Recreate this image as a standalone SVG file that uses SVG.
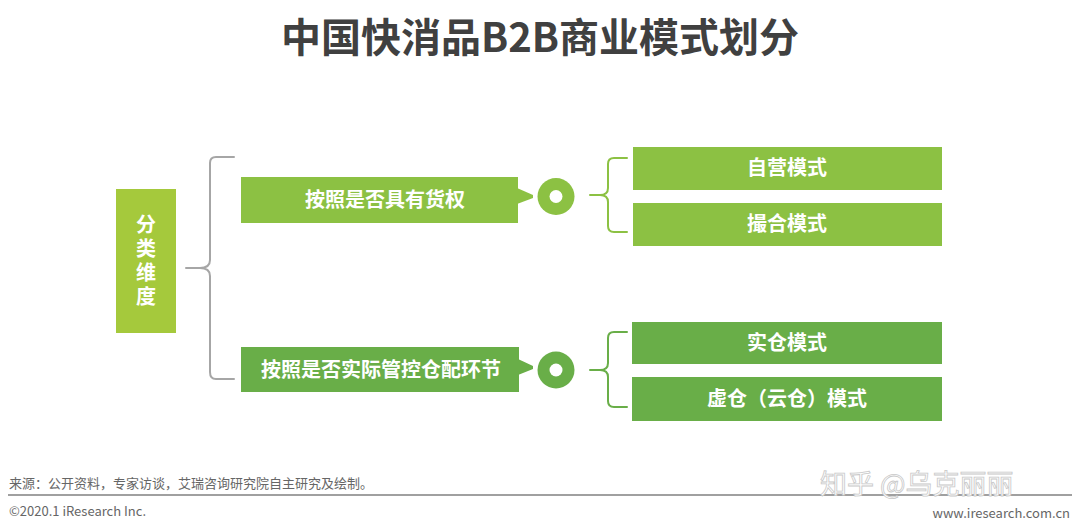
<svg xmlns="http://www.w3.org/2000/svg" width="1080" height="532" viewBox="0 0 1080 532">
<style>
.t{font-family:"Noto Sans CJK SC","Liberation Sans",sans-serif;font-weight:bold;fill:#fff;text-anchor:middle}
.lite{fill:#8CC143}
.dark{fill:#69AE48}
.br{fill:none;stroke-width:2;stroke-linecap:round;stroke-linejoin:round}
.foot{font-family:"Noto Sans CJK SC","Liberation Sans",sans-serif;font-size:13px;fill:#666}
</style>
<rect width="1080" height="532" fill="#fff"/>
<text x="540" y="52" font-family="'Noto Sans CJK SC','Liberation Sans',sans-serif" font-weight="bold" font-size="40" fill="#404040" text-anchor="middle">中国快消品B2B商业模式划分</text>

<g id="root">
<rect x="116" y="189" width="60" height="144" fill="#A5C93C"/>
<text class="t" x="146" y="262" font-size="20" writing-mode="tb" letter-spacing="4">分类维度</text>
</g>

<g id="connectors">
<path class="br" stroke="#A6A6A6" stroke-width="2.5" d="M234,157 H216 Q210,157 210,163 V260 Q210,268 200,268 H186 M200,268 Q210,268 210,276 V372 Q210,379 216,379 H234"/>
<path class="br" stroke="#8CC143" d="M627,158 H614 Q608,158 608,164 V188 Q608,195 600,195 H590 M600,195 Q608,195 608,202 V226 Q608,232 614,232 H627"/>
<path class="br" stroke="#69AE48" d="M627,332 H614 Q608,332 608,338 V363 Q608,370 600,370 H590 M600,370 Q608,370 608,377 V401 Q608,407 614,407 H627"/>
</g>

<g id="dim1">
<rect class="lite" x="241" y="177" width="277" height="46"/>
<polygon class="lite" points="517,188 533,195 533,198 517,204"/>
<text class="t" x="385" y="207" font-size="20">按照是否具有货权</text>
</g>
<g id="hub1">
<circle cx="556" cy="196.5" r="18.5" class="lite"/>
<circle cx="556" cy="196.5" r="6.5" fill="#fff"/>
</g>

<g id="dim2">
<rect class="dark" x="241" y="347" width="278" height="45"/>
<polygon class="dark" points="518,359 533,366 533,369 518,375"/>
<text class="t" x="381" y="377" font-size="20">按照是否实际管控仓配环节</text>
</g>
<g id="hub2">
<circle cx="556" cy="370" r="18.5" class="dark"/>
<circle cx="556" cy="370" r="6.5" fill="#fff"/>
</g>

<g id="m1"><rect class="lite" x="633" y="147" width="309" height="43"/><text class="t" x="787" y="175" font-size="20">自营模式</text></g>
<g id="m2"><rect class="lite" x="633" y="203" width="309" height="43"/><text class="t" x="787" y="231" font-size="20">撮合模式</text></g>
<g id="m3"><rect class="dark" x="632" y="322" width="310" height="42"/><text class="t" x="787" y="350" font-size="20">实仓模式</text></g>
<g id="m4"><rect class="dark" x="632" y="377" width="310" height="44"/><text class="t" x="787" y="406" font-size="20">虚仓（云仓）模式</text></g>

<g id="footer">
<text class="foot" x="9" y="488">来源：公开资料，专家访谈，艾瑞咨询研究院自主研究及绘制。</text>
<line x1="8" y1="495" x2="1072" y2="495" stroke="#808080" stroke-width="1.5"/>
<text class="foot" x="9" y="516">©2020.1 iResearch Inc.</text>
<text class="foot" x="1070" y="518" text-anchor="end">www.iresearch.com.cn</text>
<text x="820" y="494" font-family="'Noto Sans CJK SC',sans-serif" font-size="27" fill="#fff" stroke="#C8C8C8" stroke-width="0.8">知乎 @乌克丽丽</text>
</g>
</svg>
